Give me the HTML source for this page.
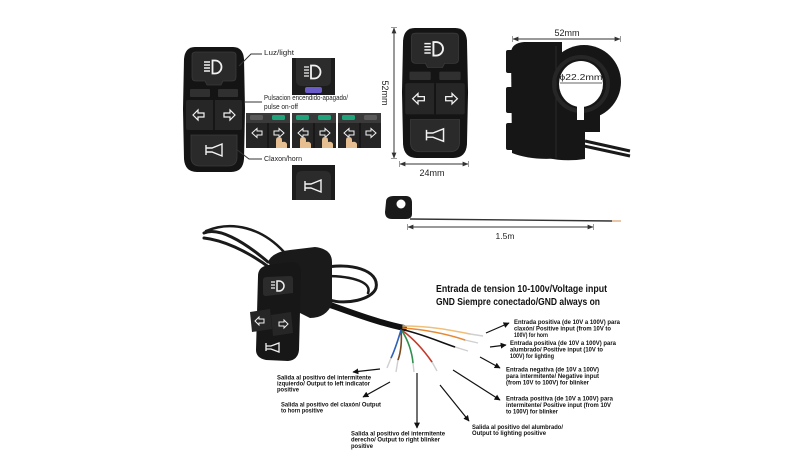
<!DOCTYPE html>
<html><head><meta charset="utf-8"><style>
html,body{margin:0;padding:0;background:#fff;}
body{width:800px;height:460px;overflow:hidden;}
svg{display:block;}
text{font-family:"Liberation Sans",Arial,sans-serif;}
</style></head><body>
<svg width="800" height="460" viewBox="0 0 800 460" xmlns="http://www.w3.org/2000/svg">
<defs>
<marker id="ah" viewBox="0 0 10 10" refX="9" refY="5" markerWidth="5" markerHeight="5" orient="auto"><path d="M0 0 L10 5 L0 10z" fill="#111"/></marker>
<marker id="dm" viewBox="0 0 10 10" refX="9" refY="5" markerWidth="6" markerHeight="6" orient="auto-start-reverse"><path d="M0 1 L10 5 L0 9z M9 0 H10.5 V10 H9z" fill="#333"/></marker>
<g id="fsw">
  <path d="M12 0 H50 Q60 0 61 12 L62 62 L61 112 Q60 125 48 125 H14 Q2 125 1 112 L0 62 L1 12 Q2 0 12 0Z" fill="#141414"/>
  <path d="M9 8 Q9 5 13 5 H49 Q53 5 53 8 V30 Q53 34 49 34 H40 L38 38 H24 L22 34 H13 Q9 34 9 30Z" fill="#2a2a2a" stroke="#3a3a3a" stroke-width="0.8"/>
  <rect x="7" y="42" width="20" height="8" rx="1" fill="#303030"/>
  <rect x="35" y="42" width="20" height="8" rx="1" fill="#303030"/>
  <rect x="3" y="53" width="56" height="30" rx="2" fill="#262626"/>
  <line x1="31" y1="53" x2="31" y2="83" stroke="#111" stroke-width="1.5"/>
  <path d="M8 88 H54 V110 Q54 119 45 119 H17 Q8 119 8 110Z" fill="#2a2a2a" stroke="#3a3a3a" stroke-width="0.8"/>
  <g stroke="#f2f2f2" fill="none">
    <path d="M21 15 H27 M21 18 H27 M21 21 H27 M21 24 H27" stroke-width="1.4"/>
    <path d="M29.5 13.5 H32 A6.5 6.5 0 0 1 32 26.5 H29.5 Z" stroke-width="1.8"/>
    <polygon points="10,68 15,63 15,66 21,66 21,70 15,70 15,73" stroke-width="1.2"/>
    <polygon points="52,68 47,63 47,66 41,66 41,70 47,70 47,73" stroke-width="1.2"/>
    <path d="M23 98 V108 M23 101 H29 L39 97 V109 L29 105 H23" stroke-width="1.4"/>
  </g>
</g>
<g id="larr"><polygon points="-5,0 0,-4.5 0,-2 5,-2 5,2 0,2 0,4.5" stroke="#f2f2f2" stroke-width="1" fill="none"/></g>
<g id="rarr"><polygon points="5,0 0,-4.5 0,-2 -5,-2 -5,2 0,2 0,4.5" stroke="#f2f2f2" stroke-width="1" fill="none"/></g>
</defs>

<rect width="800" height="460" fill="#fff"/>

<!-- top-left front switch -->
<use href="#fsw" transform="translate(183,47)"/>

<!-- leader lines -->
<g stroke="#333" stroke-width="1" fill="none">
  <path d="M239 66 L251 54 H262"/>
  <path d="M244 102 H262"/>
  <path d="M236 149 L249 159 H262"/>
</g>
<g font-size="7" fill="#222">
  <text x="264" y="55" textLength="30" lengthAdjust="spacingAndGlyphs">Luz/light</text>
  <text x="264" y="100" textLength="84" lengthAdjust="spacingAndGlyphs">Pulsacion encendido-apagado/</text>
  <text x="264" y="109" textLength="34" lengthAdjust="spacingAndGlyphs">pulse on-off</text>
  <text x="264" y="161" textLength="38" lengthAdjust="spacingAndGlyphs">Claxon/horn</text>
</g>

<!-- light inset -->
<rect x="292" y="58" width="43" height="37" fill="#1c1c1c"/>
<path d="M296 58 H331 V80 Q331 86 325 86 H302 Q296 86 296 80Z" fill="#2c2c2c"/>
<g stroke="#f2f2f2" fill="none">
  <path d="M304 67 H309 M304 70 H309 M304 73 H309 M304 76 H309" stroke-width="1.3"/>
  <path d="M311 65.5 H314 A6.5 6.5 0 0 1 314 78.5 H311 Z" stroke-width="1.8"/>
</g>
<rect x="305" y="87" width="17" height="6" rx="2" fill="#6a5cc8"/>

<!-- panels -->
<g>
  <rect x="246" y="113" width="44" height="35" fill="#252525"/>
  <rect x="246" y="113" width="44" height="10" fill="#3a3a3a"/>
  <rect x="250" y="115" width="13" height="5" rx="1.5" fill="#5a5a5a"/>
  <rect x="272" y="115" width="13" height="5" rx="1.5" fill="#1fa37a"/>
  <line x1="268" y1="123" x2="268" y2="148" stroke="#151515" stroke-width="1.5"/>
  <use href="#larr" x="257" y="133"/><use href="#rarr" x="279" y="133"/>
  <path d="M276 148 V140 Q276 137 279 137 Q282 137 282 140 V142 Q286 141 287 144 V148Z" fill="#e5be92"/>

  <rect x="292" y="113" width="44" height="35" fill="#252525"/>
  <rect x="292" y="113" width="44" height="10" fill="#3a3a3a"/>
  <rect x="296" y="115" width="13" height="5" rx="1.5" fill="#1fa37a"/>
  <rect x="318" y="115" width="13" height="5" rx="1.5" fill="#1fa37a"/>
  <line x1="314" y1="123" x2="314" y2="148" stroke="#151515" stroke-width="1.5"/>
  <use href="#larr" x="303" y="133"/><use href="#rarr" x="325" y="133"/>
  <path d="M300 148 V140 Q300 137 303 137 Q306 137 306 140 V142 Q310 141 311 144 V148Z" fill="#e5be92"/>
  <path d="M322 148 V140 Q322 137 325 137 Q328 137 328 140 V142 Q332 141 333 144 V148Z" fill="#e5be92"/>

  <rect x="338" y="113" width="43" height="35" fill="#252525"/>
  <rect x="338" y="113" width="43" height="10" fill="#3a3a3a"/>
  <rect x="342" y="115" width="13" height="5" rx="1.5" fill="#1fa37a"/>
  <rect x="364" y="115" width="13" height="5" rx="1.5" fill="#5a5a5a"/>
  <line x1="360" y1="123" x2="360" y2="148" stroke="#151515" stroke-width="1.5"/>
  <use href="#larr" x="349" y="133"/><use href="#rarr" x="371" y="133"/>
  <path d="M346 148 V140 Q346 137 349 137 Q352 137 352 140 V142 Q356 141 357 144 V148Z" fill="#e5be92"/>
</g>

<!-- horn inset -->
<rect x="292" y="165" width="43" height="35" fill="#1c1c1c"/>
<path d="M296 178 Q296 171 302 171 H325 Q331 171 331 178 V200 H296Z" fill="#2b2b2b"/>
<path d="M305 181 V191 M305 184 H311 L321 180 V192 L311 188 H305" stroke="#f2f2f2" stroke-width="1.4" fill="none"/>

<!-- middle front switch -->
<use href="#fsw" transform="translate(402,28) scale(1.065,1.04)"/>
<line x1="394" y1="28" x2="394" y2="158" stroke="#333" stroke-width="1" marker-start="url(#dm)" marker-end="url(#dm)"/>
<text transform="translate(382,93) rotate(90)" text-anchor="middle" font-size="9" fill="#222">52mm</text>
<line x1="400" y1="164" x2="468" y2="164" stroke="#333" stroke-width="1" marker-start="url(#dm)" marker-end="url(#dm)"/>
<text x="432" y="176" text-anchor="middle" font-size="9" fill="#222">24mm</text>

<!-- side view -->
<path d="M585 141 L630 151 M584 146 L630 156" stroke="#1a1a1a" stroke-width="3" fill="none"/>
<g fill="#161616">
  <path d="M511 52 Q512 43 524 42 H562 V158 Q532 161 512 153 Z"/>
  <circle cx="584" cy="82" r="37"/>
  <path d="M548 106 H600 V132 H585 V159 Q565 162 548 158 Z"/>
  <rect x="506" y="50" width="8" height="23" rx="2"/>
  <rect x="506" y="87" width="8" height="26" rx="2"/>
  <rect x="506" y="123" width="8" height="27" rx="2"/>
</g>
<line x1="556" y1="46" x2="556" y2="158" stroke="#2a2a2a" stroke-width="1"/>
<circle cx="581" cy="84" r="27" fill="none" stroke="#262626" stroke-width="4"/>
<ellipse cx="581" cy="84" rx="22" ry="23" fill="#fff"/>
<rect x="577" y="104" width="7" height="16" fill="#fff"/>
<line x1="513" y1="39" x2="620" y2="39" stroke="#333" stroke-width="1" marker-start="url(#dm)" marker-end="url(#dm)"/>
<text x="567" y="36" text-anchor="middle" font-size="9" fill="#222">52mm</text>
<line x1="560" y1="83" x2="602" y2="83" stroke="#333" stroke-width="0.8"/>
<text x="581" y="80" text-anchor="middle" font-size="8.5" fill="#222" textLength="43" lengthAdjust="spacingAndGlyphs">ϕ22.2mm</text>

<!-- small bracket + cable -->
<path d="M386 202 Q386 196 394 196 H406 Q412 196 412 203 V214 Q412 219 406 219 H392 Q385 219 385 212Z" fill="#1a1a1a"/>
<circle cx="401" cy="204" r="4.5" fill="#fff"/>
<line x1="410" y1="219" x2="612" y2="221" stroke="#333" stroke-width="1.4"/>
<line x1="612" y1="221" x2="621" y2="221" stroke="#d8a070" stroke-width="1.2"/>
<line x1="408" y1="227" x2="593" y2="227" stroke="#333" stroke-width="1" marker-start="url(#dm)" marker-end="url(#dm)"/>
<text x="505" y="239" text-anchor="middle" font-size="8.5" fill="#222">1.5m</text>

<!-- bottom assembly: cables -->
<g stroke="#1a1a1a" fill="none" stroke-linecap="round">
  <path d="M204 233 C 218 227, 242 240, 268 262" stroke-width="3"/>
  <path d="M204 238 C 222 240, 246 250, 270 268" stroke-width="3"/>
  <path d="M206 231 C 232 220, 262 228, 284 252" stroke-width="2.5"/>
  <path d="M322 268 C 350 262, 380 270, 376 288 C 372 300, 345 305, 330 300" stroke-width="3"/>
  <path d="M325 276 C 355 276, 372 283, 368 293" stroke-width="2.5"/>
  <path d="M316 300 C 345 310, 375 322, 404 328" stroke="#111" stroke-width="6"/>
</g>
<!-- bottom switch body -->
<path d="M268 262 Q272 252 290 250 L315 247 Q332 249 332 262 L332 304 Q326 318 310 318 L298 312 Z" fill="#1a1a1a"/>
<path d="M258 276 Q258 267 268 265 L292 262 Q301 263 301 272 L299 350 Q298 360 288 361 L266 360 Q256 358 256 350 Z" fill="#171717"/>
<path d="M263 280 Q263 277 267 277 L290 276 Q293 276 293 279 V293 L266 296 Q263 296 263 293Z" fill="#2b2b2b"/>
<g stroke="#f0f0f0" fill="none">
  <path d="M271 282 H275 M271 285 H275 M271 288 H275" stroke-width="1.2"/>
  <path d="M277 281 H279 A5 5 0 0 1 279 291 H277 Z" stroke-width="1.5"/>
</g>
<path d="M250 312 L270 309 L272 329 L252 332 Z" fill="#262626"/>
<path d="M271 315 L291 312 L293 333 L273 336 Z" fill="#262626"/>
<g stroke="#f0f0f0" fill="none" stroke-width="1">
  <polygon points="255,321 259,317 259,319 264,319 264,323 259,323 259,325"/>
  <polygon points="288,324 284,320 284,322 279,322 279,326 284,326 284,328"/>
  <path d="M266 343 V351 M266 346 H271 L279 343 V352 L271 349 H266" stroke-width="1.3"/>
</g>

<!-- wires -->
<g fill="none" stroke-width="1.6" stroke-linecap="round">
  <path d="M403 326 C 430 326, 450 330, 470 334" stroke="#f0c07a"/>
  <path d="M403 328 C 430 330, 450 335, 465 340" stroke="#e58a34"/>
  <path d="M404 330 C 425 335, 440 342, 455 347" stroke="#111"/>
  <path d="M403 331 C 415 340, 425 352, 432 362" stroke="#c43a2a"/>
  <path d="M402 331 C 408 340, 412 352, 413 363" stroke="#2f8f4f"/>
  <path d="M401 331 C 402 340, 401 352, 398 360" stroke="#7a4a20"/>
  <path d="M401 330 C 398 340, 395 350, 391 358" stroke="#2d62b8"/>
</g>
<g stroke="#cfcfcf" stroke-width="1.4" fill="none">
  <path d="M470 334 L483 336"/><path d="M465 340 L478 343"/><path d="M455 347 L468 351"/>
  <path d="M432 362 L437 371"/><path d="M413 363 L414 372"/><path d="M398 360 L396 372"/><path d="M391 358 L387 368"/>
</g>

<!-- arrows -->
<g stroke="#111" stroke-width="1.2" marker-end="url(#ah)">
  <line x1="486" y1="333" x2="509" y2="323"/>
  <line x1="490" y1="347" x2="506" y2="345"/>
  <line x1="480" y1="357" x2="500" y2="368"/>
  <line x1="453" y1="370" x2="500" y2="400"/>
  <line x1="380" y1="369" x2="353" y2="372"/>
  <line x1="390" y1="382" x2="363" y2="397"/>
  <line x1="417" y1="373" x2="417" y2="428"/>
  <line x1="440" y1="385" x2="469" y2="421"/>
</g>

<!-- header -->
<g font-weight="bold" fill="#111" font-size="10.5">
  <text x="436" y="292" textLength="171" lengthAdjust="spacingAndGlyphs">Entrada de tension 10-100v/Voltage input</text>
  <text x="436" y="305" textLength="164" lengthAdjust="spacingAndGlyphs">GND Siempre conectado/GND always on</text>
</g>

<!-- small labels -->
<g font-weight="bold" fill="#111" font-size="6">
  <text x="514" y="324" textLength="106" lengthAdjust="spacingAndGlyphs">Entrada positiva (de 10V a 100V) para</text>
  <text x="514" y="330.5" textLength="97" lengthAdjust="spacingAndGlyphs">claxón/ Positive input (from 10V to</text>
  <text x="514" y="337" textLength="34" lengthAdjust="spacingAndGlyphs">100V) for horn</text>

  <text x="510" y="345" textLength="106" lengthAdjust="spacingAndGlyphs">Entrada positiva (de 10V a 100V) para</text>
  <text x="510" y="351.5" textLength="93" lengthAdjust="spacingAndGlyphs">alumbrado/ Positive input (10V to</text>
  <text x="510" y="358" textLength="44" lengthAdjust="spacingAndGlyphs">100V) for lighting</text>

  <text x="506" y="371.5" textLength="93" lengthAdjust="spacingAndGlyphs">Entrada negativa (de 10V a 100V)</text>
  <text x="506" y="378" textLength="93" lengthAdjust="spacingAndGlyphs">para intermitente/ Negative input</text>
  <text x="506" y="384.5" textLength="83" lengthAdjust="spacingAndGlyphs">(from 10V to 100V) for blinker</text>

  <text x="506" y="400.5" textLength="107" lengthAdjust="spacingAndGlyphs">Entrada positiva (de 10V a 100V) para</text>
  <text x="506" y="407" textLength="105" lengthAdjust="spacingAndGlyphs">intermitente/ Positive input (from 10V</text>
  <text x="506" y="413.5" textLength="52" lengthAdjust="spacingAndGlyphs">to 100V) for blinker</text>

  <text x="277" y="379.5" textLength="94" lengthAdjust="spacingAndGlyphs">Salida al positivo del intermitente</text>
  <text x="277" y="385.5" textLength="93" lengthAdjust="spacingAndGlyphs">izquierdo/ Output to left indicator</text>
  <text x="277" y="391.5" textLength="22" lengthAdjust="spacingAndGlyphs">positive</text>

  <text x="281" y="406.5" textLength="100" lengthAdjust="spacingAndGlyphs">Salida al positivo del claxón/ Output</text>
  <text x="281" y="412.5" textLength="42" lengthAdjust="spacingAndGlyphs">to horn positive</text>

  <text x="351" y="435.5" textLength="94" lengthAdjust="spacingAndGlyphs">Salida al positivo del intermitente</text>
  <text x="351" y="441.5" textLength="89" lengthAdjust="spacingAndGlyphs">derecho/ Output to right blinker</text>
  <text x="351" y="448" textLength="22" lengthAdjust="spacingAndGlyphs">positive</text>

  <text x="472" y="429" textLength="91" lengthAdjust="spacingAndGlyphs">Salida al positivo del alumbrado/</text>
  <text x="472" y="435" textLength="74" lengthAdjust="spacingAndGlyphs">Output to lighting positive</text>
</g>
</svg>
</body></html>
